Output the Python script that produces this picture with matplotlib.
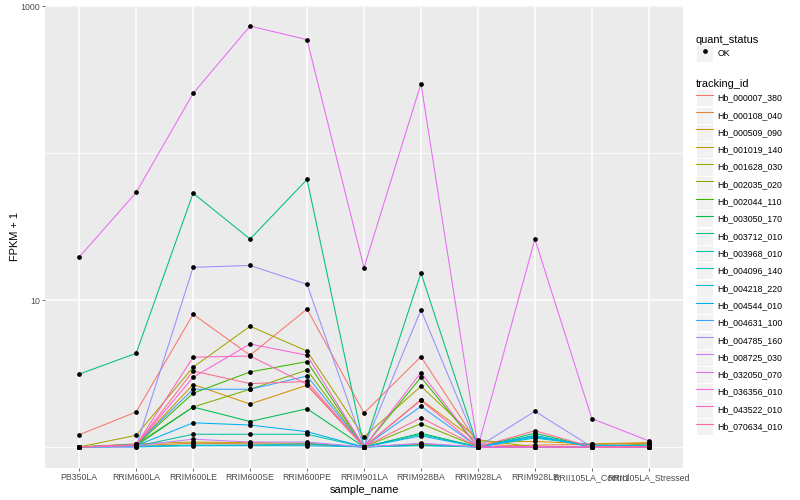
import matplotlib
matplotlib.use("Agg")
import matplotlib.pyplot as plt
import numpy as np
from matplotlib.lines import Line2D
from matplotlib.patches import Patch
from matplotlib.legend_handler import HandlerTuple
from matplotlib.ticker import FixedLocator, NullFormatter

plt.rcParams['font.family'] = ['Liberation Sans', 'DejaVu Sans']

samples = ["PB350LA", "RRIM600LA", "RRIM600LE", "RRIM600SE", "RRIM600PE", "RRIM901LA",
           "RRIM928BA", "RRIM928LA", "RRIM928LE", "RRII105LA_Control", "RRII105LA_Stressed"]

tracking_ids = ["Hb_000007_380", "Hb_000108_040", "Hb_000509_090", "Hb_001019_140",
                "Hb_001628_030", "Hb_002035_020", "Hb_002044_110", "Hb_003050_170",
                "Hb_003712_010", "Hb_003968_010", "Hb_004096_140", "Hb_004218_220",
                "Hb_004544_010", "Hb_004631_100", "Hb_004785_160", "Hb_008725_030",
                "Hb_032050_070", "Hb_036356_010", "Hb_043522_010", "Hb_070634_010"]

# ggplot default hue palette for 20 groups
colors = ["#F8766D", "#EA8331", "#D89000", "#C09B00", "#A3A500", "#7CAE00", "#39B600",
          "#00BB4E", "#00BF7D", "#00C1A3", "#00BFC4", "#00BAE0", "#00B0F6", "#35A2FF",
          "#9590FF", "#C77CFF", "#E76BF3", "#FA62DB", "#FF62BC", "#FF6C91"]

# FPKM + 1, one list per gene, in sample order
hb_000007_380 = [1.21, 1.73, 8.0, 4.21, 8.69, 1.70, 4.12, 1.05, 1.0, 1.0, 1.0]
hb_000108_040 = [1.0, 1.02, 1.06, 1.05, 1.04, 1.0, 1.05, 1.0, 1.03, 1.04, 1.06]
hb_000509_090 = [1.0, 1.03, 2.66, 1.96, 2.63, 1.0, 2.10, 1.08, 1.09, 1.05, 1.07]
hb_001019_140 = [1.0, 1.05, 1.08, 1.07, 1.06, 1.0, 1.04, 1.0, 1.0, 1.0, 1.05]
hb_001628_030 = [1.0, 1.20, 3.49, 6.63, 4.50, 1.17, 2.59, 1.12, 1.0, 1.0, 1.0]
hb_002035_020 = [1.0, 1.04, 1.87, 2.47, 3.34, 1.0, 1.44, 1.0, 1.0, 1.0, 1.0]
hb_002044_110 = [1.0, 1.03, 2.32, 3.24, 3.81, 1.0, 2.98, 1.0, 1.0, 1.0, 1.0]
hb_003050_170 = [1.0, 1.02, 1.87, 1.49, 1.82, 1.0, 1.24, 1.0, 1.24, 1.0, 1.0]
hb_003712_010 = [3.13, 4.34, 53.4, 26.0, 66.2, 1.0, 15.3, 1.0, 1.0, 1.0, 1.0]
hb_003968_010 = [1.0, 1.01, 1.22, 1.22, 1.22, 1.0, 1.22, 1.0, 1.20, 1.0, 1.0]
hb_004096_140 = [1.0, 1.01, 1.03, 1.03, 1.05, 1.0, 1.03, 1.0, 1.15, 1.03, 1.02]
hb_004218_220 = [1.0, 1.0, 1.02, 1.02, 1.02, 1.0, 1.02, 1.0, 1.17, 1.02, 1.03]
hb_004544_010 = [1.0, 1.02, 1.46, 1.41, 1.27, 1.0, 1.19, 1.0, 1.19, 1.0, 1.0]
hb_004631_100 = [1.0, 1.04, 2.47, 2.47, 3.04, 1.0, 1.89, 1.0, 1.0, 1.0, 1.0]
hb_004785_160 = [1.0, 1.0, 16.7, 17.2, 12.8, 1.0, 8.55, 1.0, 1.75, 1.0, 1.0]
hb_008725_030 = [1.0, 1.02, 1.13, 1.08, 1.08, 1.0, 1.06, 1.0, 1.0, 1.0, 1.0]
hb_032050_070 = [19.6, 54.0, 255, 733, 592, 16.6, 297, 1.0, 26.0, 1.56, 1.10]
hb_036356_010 = [1.0, 1.03, 2.98, 5.02, 4.21, 1.0, 3.21, 1.0, 1.0, 1.0, 1.0]
hb_043522_010 = [1.0, 1.03, 4.08, 4.16, 2.67, 1.0, 2.08, 1.0, 1.0, 1.0, 1.0]
hb_070634_010 = [1.0, 1.03, 3.29, 2.70, 2.79, 1.0, 1.58, 1.0, 1.29, 1.0, 1.0]

series = [hb_000007_380, hb_000108_040, hb_000509_090, hb_001019_140, hb_001628_030,
          hb_002035_020, hb_002044_110, hb_003050_170, hb_003712_010, hb_003968_010,
          hb_004096_140, hb_004218_220, hb_004544_010, hb_004631_100, hb_004785_160,
          hb_008725_030, hb_032050_070, hb_036356_010, hb_043522_010, hb_070634_010]

fig = plt.figure(figsize=(8, 5), dpi=100)
ax = fig.add_axes([45 / 800, 32 / 500, 638 / 800, 463 / 500])
ax.set_facecolor("#EBEBEB")
for s in ax.spines.values():
    s.set_visible(False)

x = np.arange(len(samples))
for vals, c in zip(series, colors):
    ax.plot(x, vals, color=c, lw=0.75, zorder=2)
for vals in series:
    ax.plot(x, vals, "o", color="black", ms=2.4, zorder=3)

# log10 scale with 5% expansion like ggplot
ax.set_yscale("log")
lo = np.log10(min(min(v) for v in series))
hi = np.log10(max(max(v) for v in series))
pad = (hi - lo) * 0.05
ax.set_ylim(10 ** (lo - pad), 10 ** (hi + pad))
ax.yaxis.set_major_locator(FixedLocator([10, 1000]))
ax.yaxis.set_minor_locator(FixedLocator([1, 100]))
ax.yaxis.set_minor_formatter(NullFormatter())
ax.set_yticklabels(["10", "1000"])

ax.set_xlim(-0.6, len(samples) - 0.4)
ax.set_xticks(x)
ax.set_xticklabels(samples)

ax.grid(which="major", color="white", lw=1.1)
ax.grid(which="minor", axis="y", color="white", lw=0.55)
ax.set_axisbelow(True)

ax.tick_params(which="major", labelsize=6.3, labelcolor="#4D4D4D", color="#333333",
               length=2, width=0.5, pad=1.5)
ax.tick_params(which="minor", length=0)

ax.set_xlabel("sample_name", fontsize=7.9, labelpad=2)
ax.set_ylabel("FPKM + 1", fontsize=7.9, labelpad=0.5)

# overlay key background and glyph like ggplot legend keys
tup = {tuple: HandlerTuple(ndivide=1, pad=0)}
key_bg = dict(facecolor="#F2F2F2", edgecolor="white", lw=0.8)
leg_kw = dict(loc="upper left", bbox_transform=fig.transFigure, frameon=False,
              fontsize=6.3, title_fontsize=7.9, handlelength=1.95, handleheight=2.62,
              handletextpad=0.5, labelspacing=0.03, borderpad=0, borderaxespad=0,
              alignment="left", handler_map=tup)

h1 = [(Patch(**key_bg), Line2D([], [], marker="o", color="black", ls="none", ms=2.4))]
leg1 = ax.legend(h1, ["OK"], title="quant_status",
                 bbox_to_anchor=(696 / 800, 1 - 35 / 500), **leg_kw)
ax.add_artist(leg1)

h2 = [(Patch(**key_bg), Line2D([], [], color=c, lw=0.75)) for c in colors]
ax.legend(h2, tracking_ids, title="tracking_id",
          bbox_to_anchor=(696 / 800, 1 - 79 / 500), **leg_kw)

fig.savefig("out.png", dpi=100)
